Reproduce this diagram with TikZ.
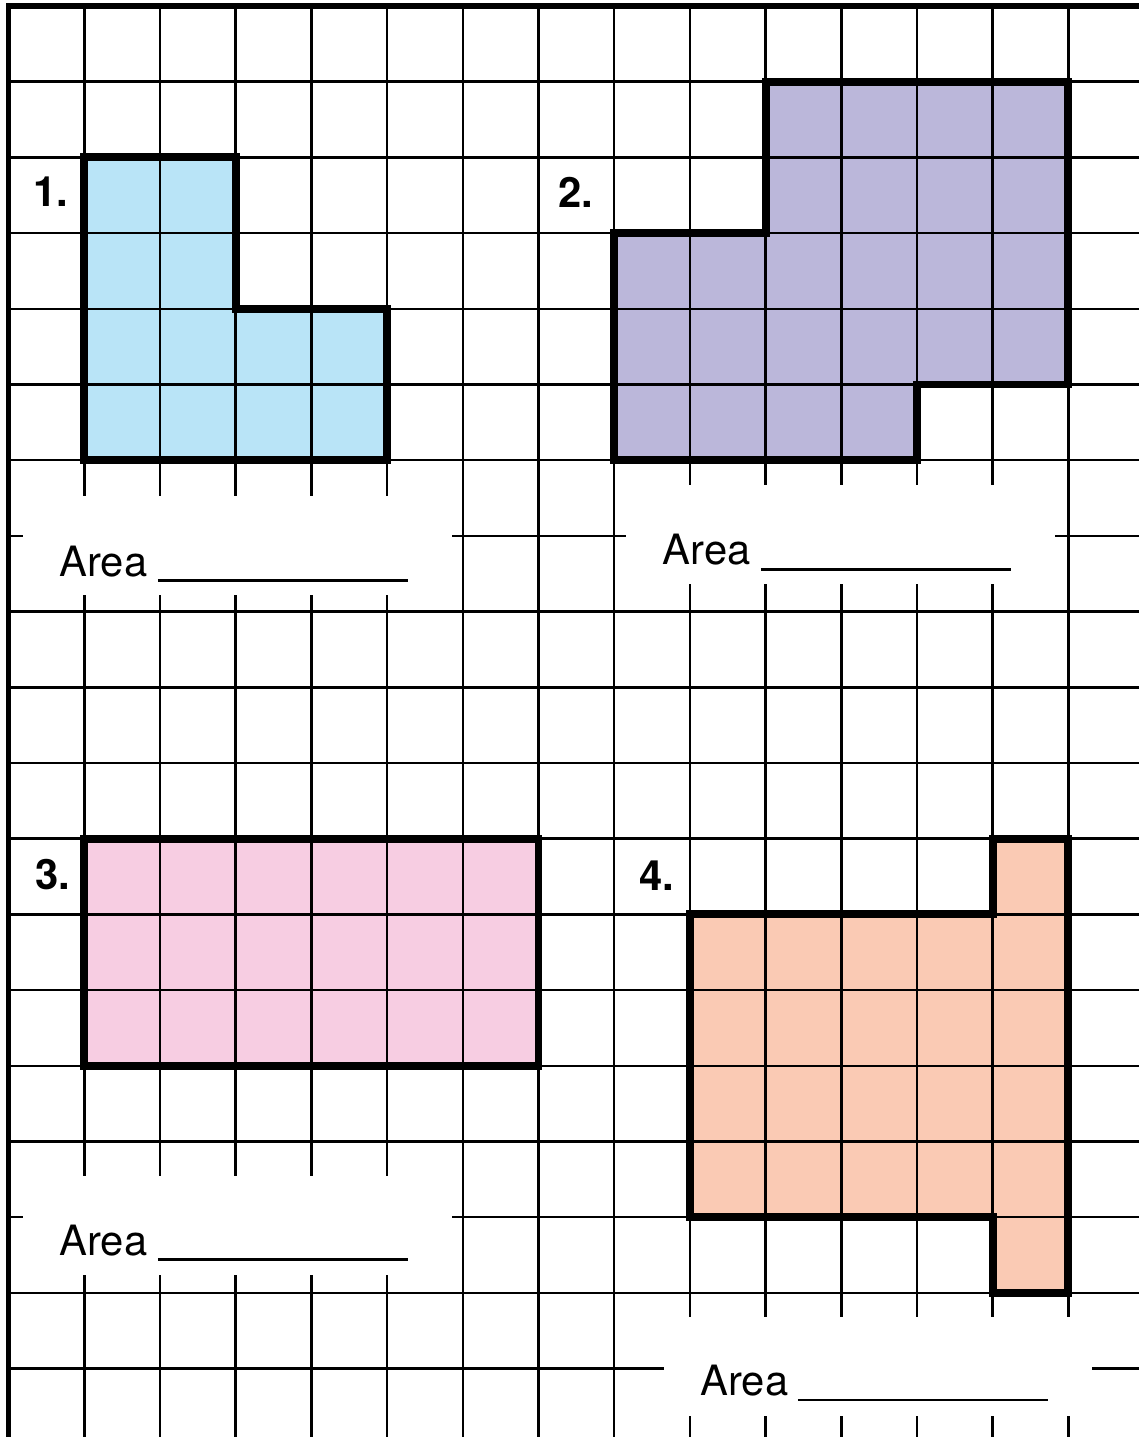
\documentclass[tikz,border=0pt]{standalone}
\usepackage{fontspec}
\setmainfont{TeX Gyre Heros}
\definecolor{sblue}{RGB}{185,228,247}
\definecolor{spurple}{RGB}{187,183,218}
\definecolor{spink}{RGB}{247,205,226}
\definecolor{speach}{RGB}{250,202,180}
\begin{document}
\begin{tikzpicture}[x=1cm,y=-1cm,
  gridline/.style={line width=0.95pt,black},
  outline/.style={line width=3pt,black,line join=miter},
  border/.style={line width=1.9pt,black,line join=miter},
  whitebox/.style={fill=white,draw=none},
  uline/.style={line width=1.1pt,black},
  lbl/.style={anchor=base west,inner sep=0pt,font=\fontsize{15.7}{18}\selectfont},
  num/.style={anchor=base west,inner sep=0pt,font=\bfseries\fontsize{15.7}{18}\selectfont}]
\useasboundingbox[fill=white] (-0.1136,-0.0793) rectangle (14.933,18.904);
% fills
\fill[sblue] (1,2) -- (3,2) -- (3,4) -- (5,4) -- (5,6) -- (1,6) -- cycle;
\fill[spurple] (10,1) -- (14,1) -- (14,5) -- (12,5) -- (12,6) -- (8,6) -- (8,3) -- (10,3) -- cycle;
\fill[spink] (1,11) rectangle (7,14);
\fill[speach] (9,12) -- (13,12) -- (13,11) -- (14,11) -- (14,17) -- (13,17) -- (13,16) -- (9,16) -- cycle;
% grid
\foreach \k in {1,...,14} \draw[gridline] (\k,0) -- (\k,18.904);
\foreach \j in {1,...,18} \draw[gridline] (0,\j) -- (14.933,\j);
% white label boxes
\fill[whitebox] (0.190,6.473) rectangle (5.857,7.781);
\fill[whitebox] (8.156,6.328) rectangle (13.823,7.636);
\fill[whitebox] (0.190,15.456) rectangle (5.857,16.764);
\fill[whitebox] (8.658,17.318) rectangle (14.312,18.626);
% outlines
\draw[outline] (1,2) -- (3,2) -- (3,4) -- (5,4) -- (5,6) -- (1,6) -- cycle;
\draw[outline] (10,1) -- (14,1) -- (14,5) -- (12,5) -- (12,6) -- (8,6) -- (8,3) -- (10,3) -- cycle;
\draw[outline] (1,11) -- (7,11) -- (7,14) -- (1,14) -- cycle;
\draw[outline] (9,12) -- (13,12) -- (13,11) -- (14,11) -- (14,17) -- (13,17) -- (13,16) -- (9,16) -- cycle;
% border
\draw[border] (0,18.904) -- (0,0) -- (14.933,0);
% numbers
\node[num] (n1) at (0.322,2.642) {1.};
\node[num] (n2) at (7.257,2.668) {2.};
\node[num] (n3) at (0.349,11.665) {3.};
\node[num] (n4) at (8.328,11.678) {4.};
% area labels
\node[lbl] (a1) at (0.666,7.530) {Area};
\coordinate (u1s) at (1.973,7.587); \coordinate (u1e) at (5.276,7.587);
\draw[uline] (u1s) -- (u1e);
\node[lbl] (a2) at (8.636,7.384) {Area};
\coordinate (u2s) at (9.939,7.441); \coordinate (u2e) at (13.242,7.441);
\draw[uline] (u2s) -- (u2e);
\node[lbl] (a3) at (0.666,16.512) {Area};
\coordinate (u3s) at (1.973,16.565); \coordinate (u3e) at (5.276,16.565);
\draw[uline] (u3s) -- (u3e);
\node[lbl] (a4) at (9.133,18.362) {Area};
\coordinate (u4s) at (10.428,18.415); \coordinate (u4e) at (13.725,18.415);
\draw[uline] (u4s) -- (u4e);
\end{tikzpicture}
\end{document}
